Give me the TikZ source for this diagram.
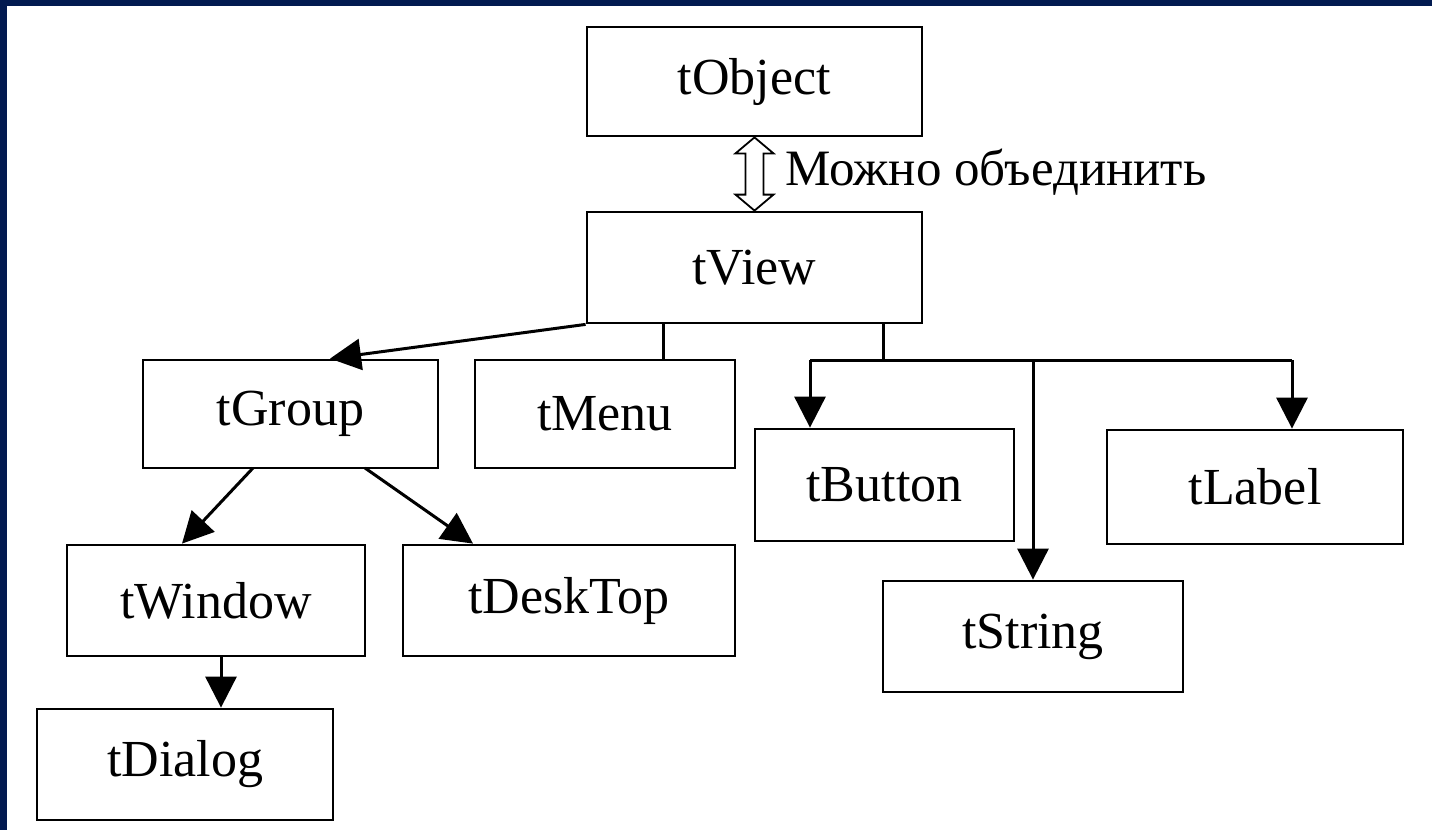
\documentclass[tikz,border=0pt]{standalone}
\usepackage{fontspec}
\setmainfont{Liberation Serif}
\usetikzlibrary{arrows.meta,calc}
\definecolor{navy}{RGB}{2,26,80}
\tikzset{
  box/.style={draw=black, line width=1.4pt, fill=white, inner sep=0pt, font=\fontsize{26}{29}\selectfont},
  conn/.style={line width=1.5pt, draw=black},
  arr/.style={conn, -{Triangle[length=15.5pt,width=15.5pt]}},
}
\begin{document}
\begin{tikzpicture}[x=0.5pt,y=-0.5pt]
\useasboundingbox (0,0) rectangle (1432,830);
\fill[white] (0,0) rectangle (1432,830);
\fill[navy] (0,0) rectangle (1432,6);
\fill[navy] (0,0) rectangle (7,830);

\node[box, minimum width=167.5pt, minimum height=54.5pt] (obj) at (754.5,81.5) {tObject};
\node[box, minimum width=167.5pt, minimum height=55.5pt] (view) at (754.5,267.5) {tView};
\node[box, minimum width=147.5pt, minimum height=54pt] (group) at (290.5,414) {tGroup};
\node[box, minimum width=130pt, minimum height=54pt] (menu) at (605,414) {tMenu};
\node[box, minimum width=129.5pt, minimum height=56pt] (button) at (884.5,485) {tButton};
\node[box, minimum width=148pt, minimum height=57pt] (label) at (1255,487) {tLabel};
\node[box, minimum width=149pt, minimum height=55.5pt] (window) at (216,600.5) {tWindow};
\node[box, minimum width=166pt, minimum height=55.5pt] (desk) at (569,600.5) {tDeskTop};
\node[box, minimum width=150pt, minimum height=55.5pt] (string) at (1033,636.5) {tString};
\node[box, minimum width=148pt, minimum height=55.5pt] (dialog) at (185,764.5) {tDialog};

% double hollow arrow between tObject and tView
\draw[line width=0.9pt, fill=white]
  (obj.south) -- ++(19,16) -- ++(-10,0) -- ($(view.north)+(9,-16)$) -- ++(10,0)
  -- (view.north) -- ++(-19,-16) -- ++(10,0) -- ($(obj.south)+(-9,16)$) -- ++(-10,0) -- cycle;
\node[anchor=west, inner sep=0pt, font=\fontsize{25.5}{28}\selectfont] (note) at (785,172) {Можно объединить};

% tView -> tGroup
\coordinate (gtop) at ($(group.north)+(39.5,0)$);
\draw[arr] (view.south west) -- (gtop);
% tView -- tMenu
\coordinate (mtop) at (663,360);
\draw[conn] (mtop|-view.south) -- (mtop);
% bus
\coordinate (bus) at (883,360);
\coordinate (bl) at (810,360);
\coordinate (br) at (1292,360);
\coordinate (bs) at (1033,360);
\draw[conn] (bus|-view.south) -- (bus);
\draw[conn] (bl) -- (br);
\draw[arr] (bl) -- (bl|-button.north);
\draw[arr] (bs) -- (string.north);
\draw[arr] (br) -- (br|-label.north);
% tGroup children
\coordinate (g1) at (253,468);
\coordinate (g2) at (365,468);
\draw[arr] (g1) -- ($(window.north)+(-34,0)$);
\draw[arr] (g2) -- ($(desk.north)+(-96,0)$);
% tWindow -> tDialog
\coordinate (w1) at (221,656);
\draw[arr] (w1) -- (w1|-dialog.north);
\end{tikzpicture}
\end{document}
